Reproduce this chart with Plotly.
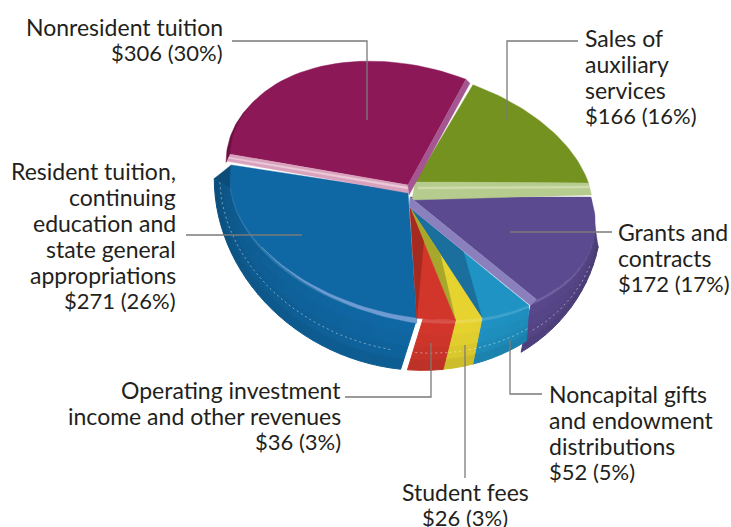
import math
import plotly.graph_objects as go

# clockwise, starting at the green slice
categories = ["Sales of<br>auxiliary<br>services", "Grants and<br>contracts",
              "Noncapital gifts<br>and endowment<br>distributions", "Student fees",
              "Operating investment<br>income and other revenues",
              "Resident tuition,<br>continuing<br>education and<br>state general<br>appropriations",
              "Nonresident tuition"]
values = [166, 172, 52, 26, 36, 271, 306]
percents = [16, 17, 5, 3, 3, 26, 30]

colors = ["#74921f", "#5b4a90", "#1f93c4", "#e6d32f", "#d2362b", "#0f67a3", "#8d1857"]

START = 19
CX, CY, RX, RY, SHEAR = 408, 205, 178, 112, 0.15
RBX, RBY, CBY, KX = 193, 176, 192, 17

# per slice: arc offset, arc scale, apex, wall y shift
style = [
    dict(off=(7, -23), scale=1.0, apex=(415, 182)),
    dict(off=(4, -9), scale=1.03, apex=(410, 197), wall_dy=8),
    dict(off=(0, 0), scale=1.0, apex=(410, 208), shade="#1a6f9c", shade_r=0.45),
    dict(off=(0, 0), scale=1.0, apex=(410, 208), shade="#a7a72c", shade_r=0.42),
    dict(off=(0, 0), scale=1.0, apex=(410, 208), shade="#a52a20", shade_r=0.3),
    dict(off=(0, 0), scale=1.0, apex=(408, 192), overlap=5),
    dict(off=(0, -20), scale=1.0, yscale=1.08, apex=(408, 185)),
]


def top_pt(t, st):
    a = math.radians(t)
    x = CX + st["scale"] * RX * math.sin(a) + st["off"][0]
    y = (CY - st["scale"] * st.get("yscale", 1) * RY * math.cos(a)
         + SHEAR * st["scale"] * RX * math.sin(a) + st["off"][1])
    return x, y


def bot_pt(t, st):
    a = math.radians(t)
    x = CX + RBX * math.sin(a) + KX * math.cos(a)
    y = CBY - RBY * math.cos(a) + SHEAR * RBX * math.sin(a) + st.get("wall_dy", 0)
    return x, y


def mix(color, f):
    r, g, b = [int(color[i:i + 2], 16) for i in (1, 3, 5)]
    if f <= 1:
        return f"rgb({r * f:.0f},{g * f:.0f},{b * f:.0f})"
    k = f - 1
    return f"rgb({r + (255 - r) * k:.0f},{g + (255 - g) * k:.0f},{b + (255 - b) * k:.0f})"


def arc(t0, t1, st, n=40):
    return [top_pt(t0 + (t1 - t0) * i / n, st) for i in range(n + 1)]


fig = go.Figure()


def poly(points, color, name="", width=0.4):
    fig.add_trace(go.Scatter(x=[p[0] for p in points] + [points[0][0]],
                             y=[p[1] for p in points] + [points[0][1]],
                             mode="lines", fill="toself", fillcolor=color,
                             line=dict(color=color, width=width), hoverinfo="skip", name=name))


total = sum(values)
angles = []
cum = START
for v in values:
    angles.append((cum, cum + v / total * 360))
    cum += v / total * 360

rows = [(0.0, 0.08, 1.14), (0.08, 0.3, 1.0), (0.3, 0.55, 0.98), (0.55, 0.8, 0.95), (0.8, 1.0, 0.9)]


def wall(i, t0, t1):
    st = style[i]
    n = max(2, int((t1 - t0) / 3))
    for j in range(n):
        a, b = t0 + (t1 - t0) * j / n, t0 + (t1 - t0) * (j + 1) / n
        mid = (a + b) / 2
        light = 0.84 + 0.16 * max(0, math.cos(math.radians(mid - 175)))
        for f0, f1, k in rows:
            pts = []
            for t, f in ((a, f0), (b, f0), (b, f1), (a, f1)):
                p, q = top_pt(t, st), bot_pt(t, st)
                pts.append((p[0] + (q[0] - p[0]) * f, p[1] + (q[1] - p[1]) * f))
            poly(pts, mix(colors[i], k * light if k <= 1 else 1 + (k - 1) * light), width=1)


def face(i, t1_extra=0):
    st = style[i]
    t0, t1 = angles[i]
    poly([st["apex"]] + arc(t0, t1 + t1_extra, st), colors[i], categories[i].replace("<br>", " "))


def stitch(i, t0, t1):
    st = style[i]
    xs, ys = [], []
    for k in range(30):
        t = t0 + (t1 - t0) * k / 29
        p, q = top_pt(t, st), bot_pt(t, st)
        xs.append(p[0] + (q[0] - p[0]) * 0.66)
        ys.append(p[1] + (q[1] - p[1]) * 0.66)
    fig.add_trace(go.Scatter(x=xs, y=ys, mode="lines", hoverinfo="skip",
                             line=dict(color="rgba(255,255,255,0.45)", width=1, dash="2px,3px")))


# purple: wall stops short of the top corner, a wedge closes it
WALL_START = 96
wall(1, WALL_START, angles[1][1] + 2)
stitch(1, 105, angles[1][1])
poly([top_pt(angles[1][0], style[1]), top_pt(WALL_START, style[1]), bot_pt(WALL_START, style[1])],
     mix(colors[1], 0.82))
face(1)

# green and its light cut edge
face(0)
g_end = top_pt(angles[0][1], style[0])
g_apex = style[0]["apex"]
poly([g_apex, g_end, (g_end[0] + 3, g_end[1] + 12), (g_apex[0] - 3, g_apex[1] + 18)], "#b6cb8e")
poly([(g_apex[0] + 3, g_apex[1] + 5), (g_end[0] + 1, g_end[1] + 3), (g_end[0] + 1, g_end[1] + 5),
      (g_apex[0] + 3, g_apex[1] + 7)], "#cfdcae")

# resident tuition: same wedge trick at the far left corner
WALL_STOP = 265
wall(5, angles[5][0], WALL_STOP)
stitch(5, 182, WALL_STOP)
poly([top_pt(angles[5][1] + 5, style[5]), top_pt(WALL_STOP, style[5]), bot_pt(WALL_STOP, style[5])],
     mix(colors[5], 0.74))
face(5, style[5]["overlap"])
hl = []
for k in range(25):
    t = angles[5][0] + 58 * k / 24
    hl.append(top_pt(t, style[5]))
for k in range(24, -1, -1):
    t = angles[5][0] + 58 * k / 24
    p = top_pt(t, style[5])
    hl.append((p[0], p[1] + 5 * (1 - k / 24)))
poly(hl, "#6d9bd2")

# nonresident: dark strip behind, then face and cut edges
st6 = style[6]
poly([(x - 4, y + 4) for x, y in arc(angles[6][0] - 2, angles[6][0] + 42, st6)], "#6d0f42")
face(6)
n_left = top_pt(angles[6][0], st6)
n_right = top_pt(angles[6][1], st6)
n_apex = st6["apex"]
poly([n_apex, n_left, (n_left[0] - 3, n_left[1] + 7), (n_apex[0], n_apex[1] + 8)], "#d9a3bd")
poly([(n_apex[0], n_apex[1] + 2), (n_left[0] - 1, n_left[1] + 3), (n_left[0] - 2, n_left[1] + 4),
      (n_apex[0], n_apex[1] + 4)], "#eccbd9")
poly([n_apex, n_right, (n_right[0] + 4, n_right[1] + 4), (n_apex[0] + 1, n_apex[1] + 10)], "#a5558f")

# small front slices, the red wall ends a little short of its edge
for i in (2, 3, 4):
    t0, t1 = angles[i]
    wall(i, t0, t1 - 2 if i == 4 else t1)
    stitch(i, t0, t1 - 2 if i == 4 else t1)
    face(i)
    st = style[i]
    # shaded cut face running from the apex
    r = st["shade_r"]
    corner = top_pt(t1, st)
    inner = top_pt(t0, st)
    inner = (st["apex"][0] + (inner[0] - st["apex"][0]) * r, st["apex"][1] + (inner[1] - st["apex"][1]) * r)
    poly([st["apex"], corner, inner], st["shade"])

# lilac edge of the purple slice
p_end = top_pt(angles[1][1], style[1])
p_apex = style[1]["apex"]
poly([p_apex, p_end, (p_end[0] - 6, p_end[1] + 6), (p_apex[0] - 1, p_apex[1] + 10)], "#8a80bd")

# leader lines
leaders = [
    [(232, 41), (367, 41), (367, 120)],
    [(578, 41), (507, 41), (507, 120)],
    [(612, 232), (510, 232)],
    [(186, 235), (302, 235)],
    [(542, 394), (510, 394), (510, 340)],
    [(465, 478), (465, 345)],
    [(345, 397), (431, 397), (431, 343)],
]
for pts in leaders:
    fig.add_trace(go.Scatter(x=[p[0] for p in pts], y=[p[1] for p in pts], mode="lines",
                             line=dict(color="#7a7a7a", width=1.3), hoverinfo="skip"))

# label anchors (x, first line y) in the same order as categories
anchors = [(584, 38, "left"), (617, 232, "left"), (548, 394, "left"), (465, 492, "center"),
           (342, 390, "right"), (177, 171, "right"), (224, 27, "right")]
for cat, v, pct, (x, y, side) in zip(categories, values, percents, anchors):
    lines = cat.split("<br>") + [f"${v} ({pct}%)"]
    for n, line in enumerate(lines):
        size = 22 if n == len(lines) - 1 else 23
        fig.add_annotation(x=x, y=y + n * 25.9, text=line, showarrow=False,
                           xanchor=side, yanchor="middle", align=side, borderpad=0,
                           font=dict(family="Lato", size=size, color="#231f20"))

fig.update_layout(
    width=731, height=527, autosize=False, showlegend=False,
    margin=dict(l=0, r=0, t=0, b=0),
    paper_bgcolor="white", plot_bgcolor="white",
    xaxis=dict(range=[0, 731], visible=False, fixedrange=True),
    yaxis=dict(range=[527, 0], visible=False, fixedrange=True),
)
# the page's default body margin would push the chart 8px in
fig.write_html("out.html", config={"displayModeBar": False},
               post_script="document.body.style.margin='0';document.body.style.overflow='hidden';")
